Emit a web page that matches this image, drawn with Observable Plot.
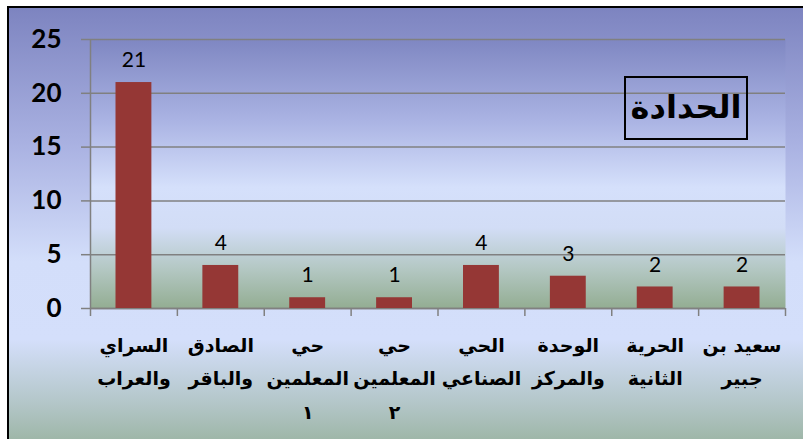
<!DOCTYPE html>
<html>
<head>
<meta charset="utf-8">
<script src="https://cdn.jsdelivr.net/npm/d3@7"></script>
<script src="https://cdn.jsdelivr.net/npm/@observablehq/plot@0.6"></script>
<style>
  html, body { margin: 0; padding: 0; background: #ffffff; overflow: hidden; }
  #wrap { position: relative; width: 803px; height: 439px; overflow: hidden; }
  #bg { position: absolute; left: 7px; top: 6px; width: 830px; height: 460px;
        border-top: 2px solid #000; border-left: 2px solid #000;
        background: linear-gradient(to bottom, #7d84c0 0%, #aab2e2 30%, #d3defa 55%, #d4dffb 72%, #b3c6c8 86%, #8eaa8f 100%); }
  #chart { position: absolute; left: 0; top: 0; }
  #title { position: absolute; left: 624px; top: 76px; width: 120px; height: 60px;
           border: 2px solid #000; font-family: "DejaVu Sans", sans-serif; font-weight: bold;
           font-size: 32px; line-height: 58px; text-align: center; direction: rtl; color: #000; }
</style>
</head>
<body>
<div id="wrap">
  <div id="bg"></div>
  <div id="chart"></div>
  <div id="title">الحدادة</div>
</div>
<script>
const categories = [
  "السراي\nوالعراب",
  "الصادق\nوالباقر",
  "حي\nالمعلمين\n١",
  "حي\nالمعلمين\n٢",
  "الحي\nالصناعي",
  "الوحدة\nوالمركز",
  "الحرية\nالثانية",
  "سعيد بن\nجبير"
];
const values = [21, 4, 1, 1, 4, 3, 2, 2];
const yTicks = [0, 5, 10, 15, 20, 25];
const boundaries = d3.range(categories.length + 1);

const data = categories.map((c, i) => ({name: c, value: values[i], i}));

const svg = Plot.plot({
  width: 803,
  height: 439,
  marginLeft: 90,
  marginRight: 18,
  marginTop: 39,
  marginBottom: 131,
  style: {background: "transparent", overflow: "visible"},
  x: {type: "linear", domain: [0, categories.length], axis: null},
  y: {domain: [0, 25], axis: null},
  marks: [
    Plot.frame({fill: "url(#plotGrad)", stroke: "none"}),
    Plot.gridY(yTicks, {stroke: "#808080", strokeOpacity: 1, strokeWidth: 1.5}),
    Plot.axisY({ticks: yTicks, label: null, tickSize: 9, tickPadding: 20, stroke: "#808080", strokeWidth: 1.5,
                fontFamily: "Lato, sans-serif", fontWeight: "bold", fontSize: 26, fill: "#000"}),
    Plot.ruleX([0], {stroke: "#808080", strokeWidth: 1.5}),
    Plot.ruleY([0], {stroke: "#808080", strokeWidth: 1.5}),
    Plot.axisX({ticks: boundaries, label: null, tickSize: 8, tickFormat: () => "", stroke: "#808080", strokeWidth: 1.5}),
    Plot.rectY(data, {x1: d => d.i, x2: d => d.i + 1, y: "value", fill: "#953735", insetLeft: 25.5, insetRight: 25.5}),
    Plot.text(data, {x: d => d.i + 0.5, y: "value", text: d => String(d.value), dy: -22,
                     fontFamily: "Lato, sans-serif", fontSize: 21, fill: "#000"}),
    Plot.text(data, {x: d => d.i + 0.5, text: "name", frameAnchor: "bottom", lineAnchor: "top", dy: 20,
                     lineHeight: 1.75, fontFamily: "DejaVu Sans, sans-serif", fontWeight: "bold", fontSize: 19, fill: "#000"})
  ]
});
svg.insertAdjacentHTML("afterbegin",
  `<defs><linearGradient id="plotGrad" x1="0" y1="0" x2="0" y2="1">
     <stop offset="0%" stop-color="#7f87c2"/>
     <stop offset="30%" stop-color="#aab3e3"/>
     <stop offset="55%" stop-color="#d5e0fb"/>
     <stop offset="70%" stop-color="#d2ddf6"/>
     <stop offset="85%" stop-color="#b4c8c4"/>
     <stop offset="100%" stop-color="#93ad92"/>
   </linearGradient></defs>`);
document.getElementById("chart").appendChild(svg);
</script>
</body>
</html>
